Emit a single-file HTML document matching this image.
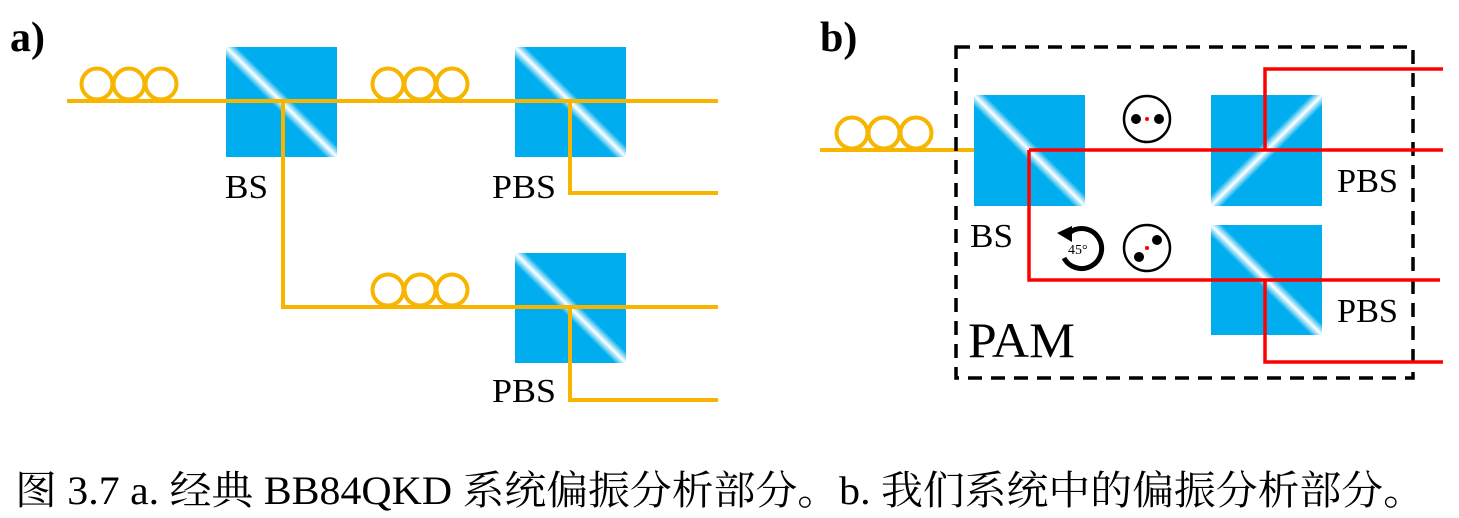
<!DOCTYPE html>
<html><head><meta charset="utf-8"><style>html,body{margin:0;padding:0;background:#fff}svg{display:block}</style></head>
<body>
<svg width="1459" height="518" viewBox="0 0 1459 518" xmlns="http://www.w3.org/2000/svg">
<defs>
<linearGradient id="gd" x1="0" y1="1" x2="1" y2="0">
<stop offset="0" stop-color="#00aeef"/><stop offset="0.45" stop-color="#00aeef"/><stop offset="0.5" stop-color="#ffffff"/><stop offset="0.55" stop-color="#00aeef"/><stop offset="1" stop-color="#00aeef"/>
</linearGradient>
<linearGradient id="gu" x1="0" y1="0" x2="1" y2="1">
<stop offset="0" stop-color="#00aeef"/><stop offset="0.45" stop-color="#00aeef"/><stop offset="0.5" stop-color="#ffffff"/><stop offset="0.55" stop-color="#00aeef"/><stop offset="1" stop-color="#00aeef"/>
</linearGradient>
</defs>
<g font-family="Liberation Serif, serif" fill="#000">
<text x="10" y="51" font-size="42" font-weight="bold">a)</text>
<text x="820" y="51" font-size="42" font-weight="bold">b)</text>
</g>
<rect x="226" y="47" width="111" height="110" fill="url(#gd)"/>
<rect x="515" y="47" width="111" height="110" fill="url(#gd)"/>
<rect x="515" y="253" width="111" height="110" fill="url(#gd)"/>
<g stroke="#f7b500" stroke-width="4" fill="none">
<path d="M67 101H718M283 101V307H718M570 101V193H718M570 307V400H718"/>
<circle cx="97" cy="84" r="15.5"/><circle cx="129" cy="84" r="15.5"/><circle cx="161" cy="84" r="15.5"/>
<circle cx="388" cy="84" r="15.5"/><circle cx="420" cy="84" r="15.5"/><circle cx="452" cy="84" r="15.5"/>
<circle cx="388" cy="290" r="15.5"/><circle cx="420" cy="290" r="15.5"/><circle cx="452" cy="290" r="15.5"/>
<circle cx="852" cy="133" r="15.5"/><circle cx="884" cy="133" r="15.5"/><circle cx="916" cy="133" r="15.5"/>
<path d="M820 150H1029"/>
</g>
<g font-family="Liberation Serif, serif" font-size="34" fill="#000" lengthAdjust="spacingAndGlyphs">
<text x="225" y="198" textLength="43" lengthAdjust="spacingAndGlyphs">BS</text>
<text x="492" y="198" textLength="64" lengthAdjust="spacingAndGlyphs">PBS</text>
<text x="492" y="402" textLength="64" lengthAdjust="spacingAndGlyphs">PBS</text>
<text x="970" y="247" textLength="43" lengthAdjust="spacingAndGlyphs">BS</text>
<text x="1337" y="192" textLength="61" lengthAdjust="spacingAndGlyphs">PBS</text>
<text x="1337" y="322" textLength="61" lengthAdjust="spacingAndGlyphs">PBS</text>
<text x="968" y="357" font-size="50" textLength="107" lengthAdjust="spacingAndGlyphs">PAM</text>
</g>
<rect x="974" y="95" width="111" height="111" fill="url(#gd)"/>
<rect x="1211" y="95" width="111" height="111" fill="url(#gu)"/>
<rect x="1211" y="225" width="111" height="110" fill="url(#gd)"/>
<rect x="956" y="47" width="457" height="331" fill="none" stroke="#000" stroke-width="3.5" stroke-dasharray="14,9"/>
<g stroke="#f00" stroke-width="3.5" fill="none">
<path d="M1029 150H1443M1029 150V280H1440M1265 150V69H1443M1265 280V362H1443"/>
</g>
<g stroke="#000" stroke-width="2.5" fill="none">
<circle cx="1147" cy="119" r="23"/><circle cx="1147" cy="248" r="23"/>
<path d="M1069 233 A20 20 0 1 1 1064 258" stroke-width="5"/>
</g>
<circle cx="1136" cy="119" r="5"/><circle cx="1159" cy="119" r="5"/><circle cx="1147" cy="119" r="2" fill="#f00"/>
<circle cx="1139" cy="257" r="5"/><circle cx="1157" cy="240" r="5"/><circle cx="1147" cy="248" r="2" fill="#f00"/>
<path d="M1057 233 L1072 226 L1072 242 Z" fill="#000"/>
<text x="1068" y="254" font-family="Liberation Serif, serif" font-size="14">45°</text>
<text x="15" y="504" font-family="Liberation Serif, 'Noto Serif CJK SC', serif" font-size="40" textLength="1410" lengthAdjust="spacingAndGlyphs">图 3.7 a.  经典 BB84QKD 系统偏振分析部分。b.  我们系统中的偏振分析部分。</text>
</svg>
</body></html>
